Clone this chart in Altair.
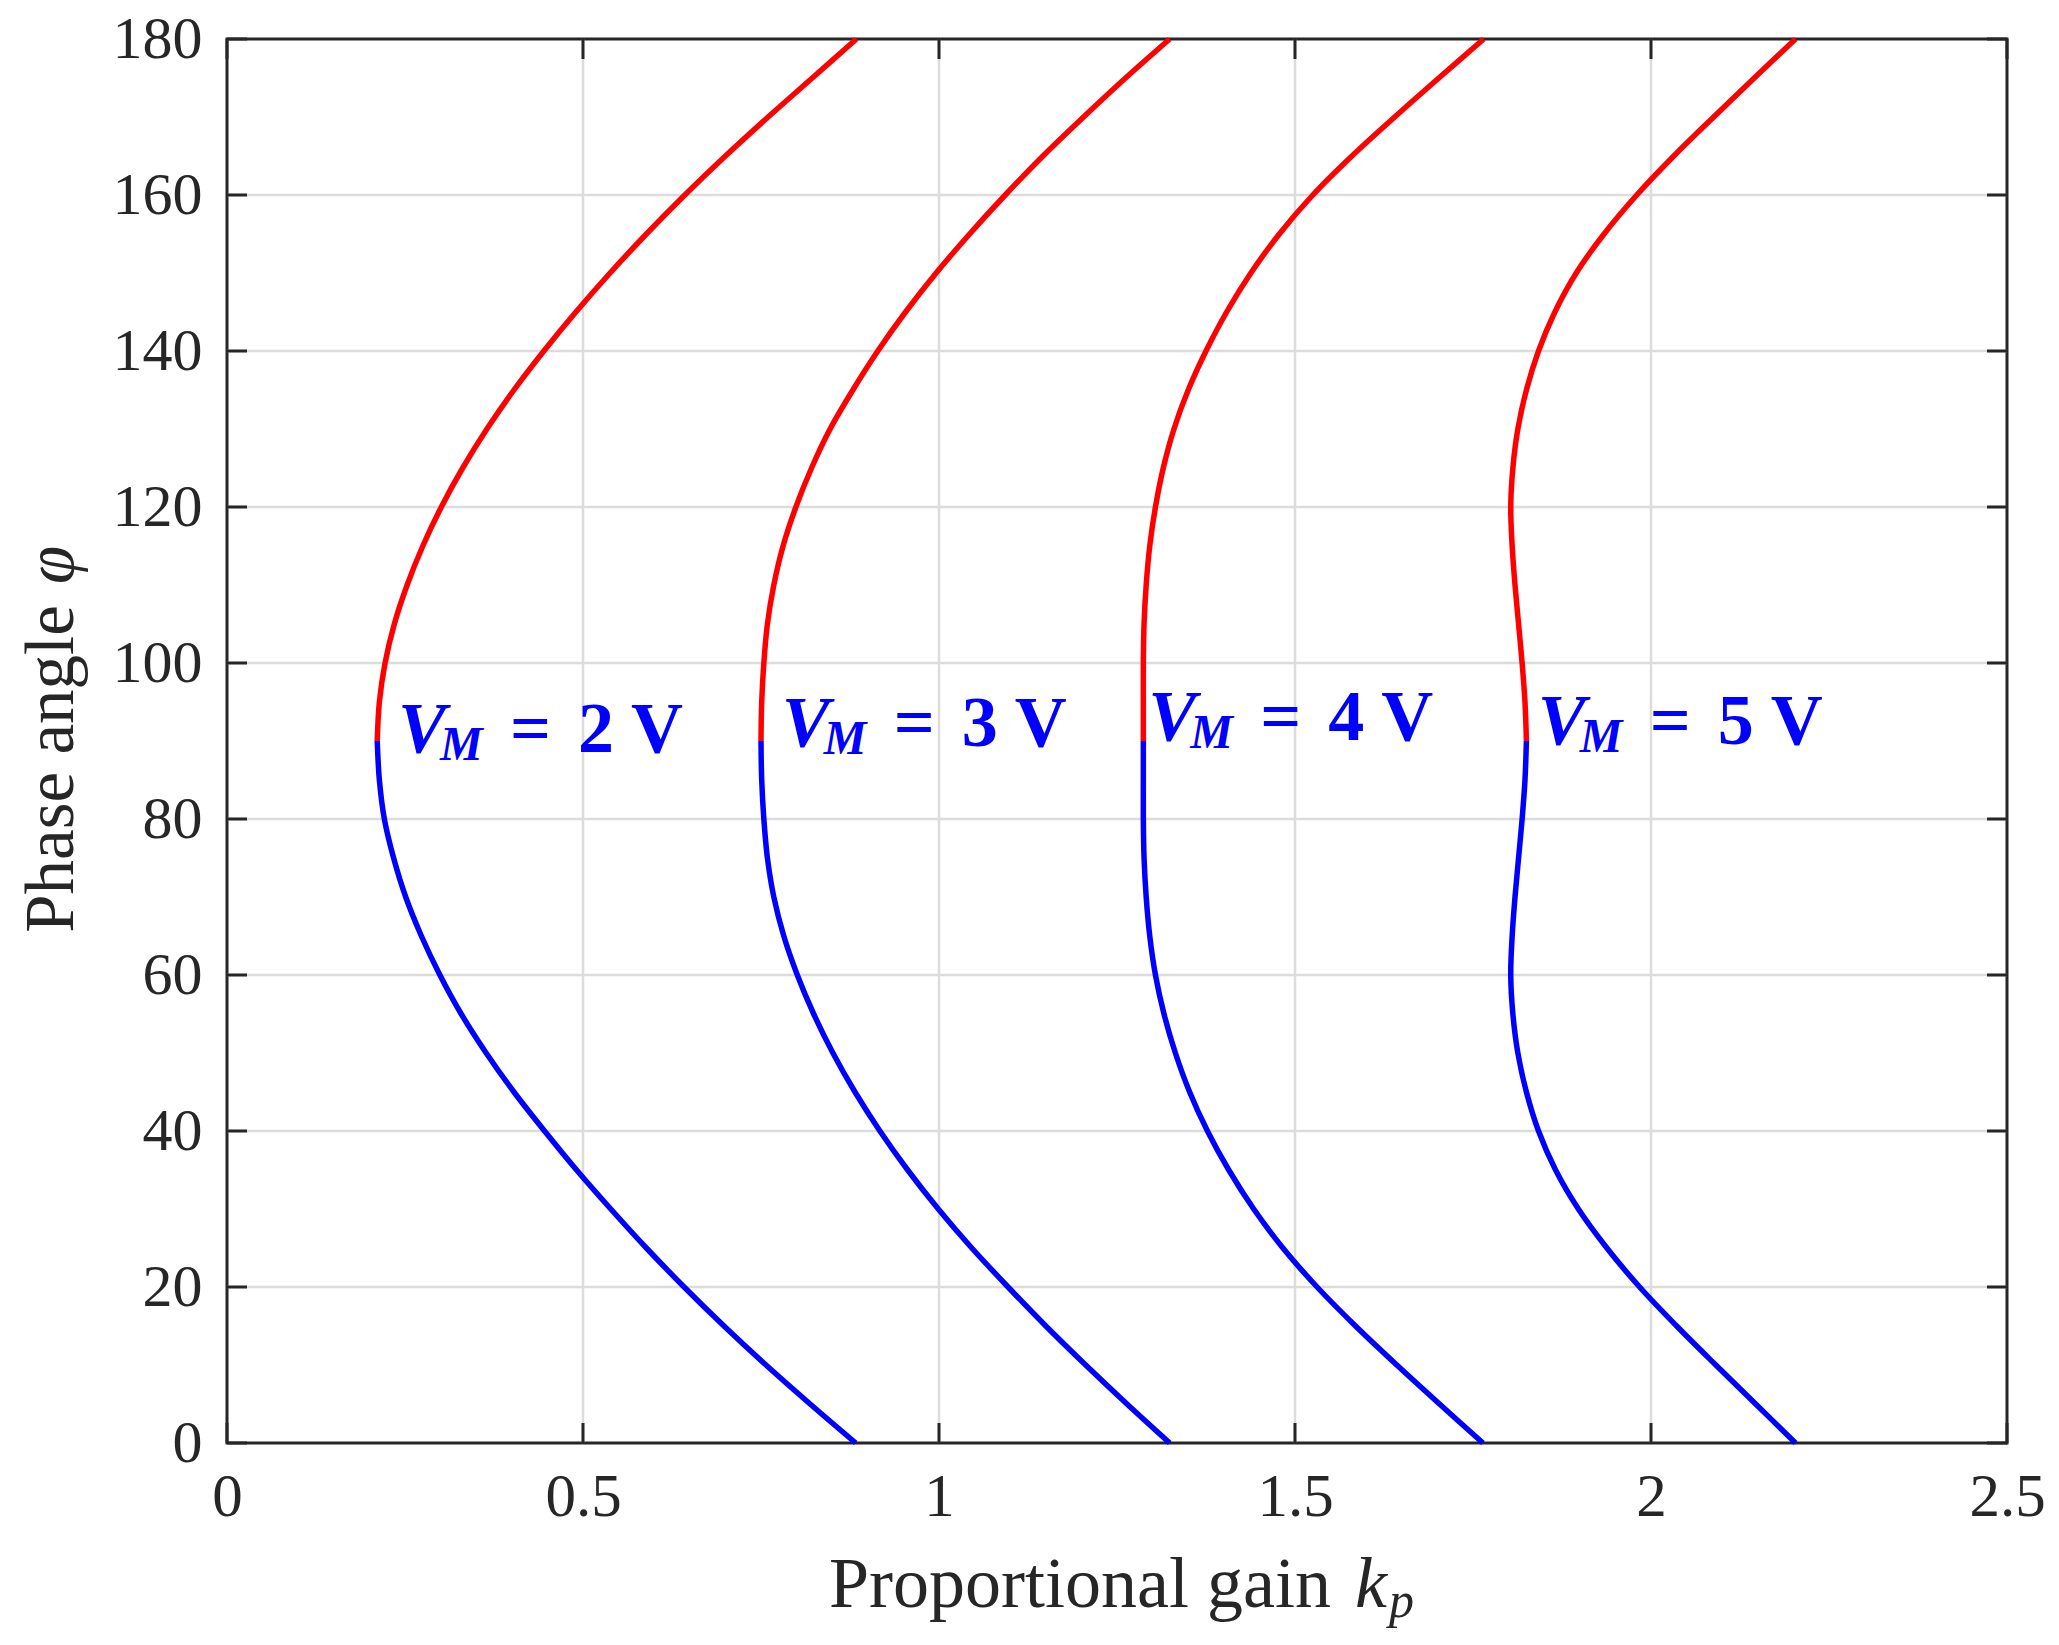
import altair as alt
import pandas as pd

# ---------------- data ----------------
phi_lower = [0, 5, 10, 15, 20, 25, 30, 35, 40, 45, 50, 55, 60, 65, 70, 75, 80, 85, 90]
phi_upper = [90, 95, 100, 105, 110, 115, 120, 125, 130, 135, 140, 145, 150, 155, 160, 165, 170, 175, 180]

kp_2V_lower = [0.883, 0.819, 0.757, 0.698, 0.642, 0.589, 0.539, 0.491, 0.446, 0.403, 0.364, 0.329,
               0.299, 0.273, 0.251, 0.234, 0.221, 0.214, 0.211]
kp_2V_upper = [0.211, 0.214, 0.222, 0.235, 0.253, 0.275, 0.301, 0.331, 0.365, 0.403, 0.445, 0.490,
               0.538, 0.589, 0.643, 0.700, 0.760, 0.822, 0.884]

kp_3V_lower = [1.324, 1.264, 1.206, 1.150, 1.097, 1.046, 0.999, 0.956, 0.917, 0.882, 0.851, 0.824,
               0.801, 0.782, 0.768, 0.759, 0.754, 0.751, 0.750]
kp_3V_upper = [0.750, 0.751, 0.754, 0.759, 0.768, 0.781, 0.799, 0.821, 0.847, 0.879, 0.914, 0.953,
               0.996, 1.043, 1.093, 1.146, 1.203, 1.262, 1.324]

kp_4V_lower = [1.764, 1.703, 1.643, 1.585, 1.531, 1.483, 1.442, 1.407, 1.377, 1.352, 1.332, 1.316,
               1.304, 1.296, 1.291, 1.288, 1.287, 1.287, 1.287]
kp_4V_upper = [1.287, 1.287, 1.287, 1.288, 1.291, 1.296, 1.304, 1.315, 1.330, 1.350, 1.375, 1.404,
               1.438, 1.478, 1.525, 1.580, 1.640, 1.702, 1.765]

kp_5V_lower = [2.203, 2.147, 2.091, 2.036, 1.984, 1.938, 1.898, 1.866, 1.842, 1.825, 1.813, 1.806,
               1.803, 1.805, 1.809, 1.814, 1.819, 1.823, 1.825]
kp_5V_upper = [1.825, 1.823, 1.819, 1.814, 1.809, 1.805, 1.803, 1.806, 1.813, 1.825, 1.842, 1.865,
               1.895, 1.934, 1.980, 2.032, 2.088, 2.145, 2.203]

vm_values = ["2", "3", "4", "5"]
label_kp = [0.240, 0.779, 1.294, 1.841]
label_phi = [88.6, 89.4, 90.1, 89.6]

x_ticks = [0, 0.5, 1, 1.5, 2, 2.5]
y_ticks = [0, 20, 40, 60, 80, 100, 120, 140, 160, 180]

x_title_main = "Proportional gain"
x_title_var = "k"
x_title_sub = "p"
y_title_main = "Phase angle"
y_title_var = "φ"

# ---------------- build tables ----------------
rows = []
series = [
    ("2", kp_2V_lower, kp_2V_upper),
    ("3", kp_3V_lower, kp_3V_upper),
    ("4", kp_4V_lower, kp_4V_upper),
    ("5", kp_5V_lower, kp_5V_upper),
]
for vm, lo, up in series:
    for p, k in zip(phi_lower, lo):
        rows.append({"vm": vm, "half": "lower", "phi": p, "kp": k})
    for p, k in zip(phi_upper, up):
        rows.append({"vm": vm, "half": "upper", "phi": p, "kp": k})
curves_df = pd.DataFrame(rows)

labels_df = pd.DataFrame({"kp": label_kp, "phi": label_phi, "vm": vm_values})
xt_df = pd.DataFrame({"kp": x_ticks})
yt_df = pd.DataFrame({"phi": y_ticks})
xg_df = pd.DataFrame({"kp": [v for v in x_ticks if 0 < v < 2.5]})
yg_df = pd.DataFrame({"phi": [v for v in y_ticks if 0 < v < 180]})

# ---------------- style ----------------
W, H = 1780, 1404
INK = "#262626"
SERIF = "Liberation Serif"
GRID = "#dcdcdc"
BLUE = "#0000ff"
RED = "#ff0000"

xs = alt.Scale(domain=[0, 2.5], nice=False, zero=False)
ys = alt.Scale(domain=[0, 180], nice=False, zero=False)

xaxis = alt.Axis(values=x_ticks, format="~g", grid=False, ticks=False, tickSize=0, domain=False,
                 labelFont=SERIF, labelFontSize=61, labelColor=INK, labelPadding=24,
                 labelFlush=False, labelOverlap=False, title=None)
yaxis = alt.Axis(values=y_ticks, format="d", grid=False, ticks=False, tickSize=0, domain=False,
                 labelFont=SERIF, labelFontSize=60, labelColor=INK, labelPadding=25,
                 labelFlush=False, labelOverlap=False, title=None)

X = alt.X("kp:Q", scale=xs, axis=xaxis)
Y = alt.Y("phi:Q", scale=ys, axis=yaxis)

grid_x = alt.Chart(xg_df).mark_rule(color=GRID, strokeWidth=2.5).encode(
    x=X, y=alt.value(0), y2=alt.value(H))
grid_y = alt.Chart(yg_df).mark_rule(color=GRID, strokeWidth=2.5).encode(
    y=Y, x=alt.value(0), x2=alt.value(W))

ticks_bottom = alt.Chart(xt_df).mark_rule(color=INK, strokeWidth=3).encode(
    x=X, y=alt.value(H), y2=alt.value(H - 20))
ticks_top = alt.Chart(xt_df).mark_rule(color=INK, strokeWidth=3).encode(
    x=X, y=alt.value(0), y2=alt.value(20))
ticks_left = alt.Chart(yt_df).mark_rule(color=INK, strokeWidth=3).encode(
    y=Y, x=alt.value(0), x2=alt.value(20))
ticks_right = alt.Chart(yt_df).mark_rule(color=INK, strokeWidth=3).encode(
    y=Y, x=alt.value(W), x2=alt.value(W - 20))

curves = alt.Chart(curves_df).mark_line(strokeWidth=5.5, interpolate="catmull-rom").encode(
    x=X,
    y=Y,
    color=alt.Color("half:N", scale=alt.Scale(domain=["lower", "upper"], range=[BLUE, RED]),
                    legend=None),
    detail="vm:N",
    order=alt.Order("phi:Q"),
)

lab_v = alt.Chart(labels_df).mark_text(font=SERIF, fontSize=72, fontWeight="bold", fontStyle="italic",
                                       color=BLUE, align="left", baseline="alphabetic").encode(
    x=X, y=Y, text=alt.value("V"))
lab_m = alt.Chart(labels_df).mark_text(font=SERIF, fontSize=48, fontWeight="bold", fontStyle="italic",
                                       color=BLUE, align="left", baseline="alphabetic", dx=42, dy=8).encode(
    x=X, y=Y, text=alt.value("M"))
lab_eq = alt.Chart(labels_df).mark_text(font=SERIF, fontSize=72, fontWeight="bold",
                                        color=BLUE, align="left", baseline="alphabetic", dx=112).encode(
    x=X, y=Y, text=alt.value("="))
lab_num = alt.Chart(labels_df).mark_text(font=SERIF, fontSize=72, fontWeight="bold",
                                         color=BLUE, align="left", baseline="alphabetic", dx=180).encode(
    x=X, y=Y, text="vm:N")
lab_unit = alt.Chart(labels_df).mark_text(font=SERIF, fontSize=72, fontWeight="bold",
                                          color=BLUE, align="left", baseline="alphabetic", dx=233).encode(
    x=X, y=Y, text=alt.value("V"))

xt_main = alt.Chart(pd.DataFrame({"t": [x_title_main]})).mark_text(
    font=SERIF, fontSize=72, color=INK, align="center", baseline="alphabetic").encode(
    x=alt.value(853), y=alt.value(1568), text="t:N")
xt_var = alt.Chart(pd.DataFrame({"t": [x_title_var]})).mark_text(
    font=SERIF, fontSize=72, fontStyle="italic", color=INK, align="left", baseline="alphabetic").encode(
    x=alt.value(1128), y=alt.value(1568), text="t:N")
xt_sub = alt.Chart(pd.DataFrame({"t": [x_title_sub]})).mark_text(
    font=SERIF, fontSize=50, fontStyle="italic", color=INK, align="left", baseline="alphabetic").encode(
    x=alt.value(1162), y=alt.value(1578), text="t:N")

yt_main = alt.Chart(pd.DataFrame({"t": [y_title_main]})).mark_text(
    font=SERIF, fontSize=69, color=INK, align="center", baseline="alphabetic", angle=270).encode(
    x=alt.value(-154), y=alt.value(730), text="t:N")
yt_var = alt.Chart(pd.DataFrame({"t": [y_title_var]})).mark_text(
    font=SERIF, fontSize=69, fontStyle="italic", color=INK, align="left", baseline="alphabetic", angle=270).encode(
    x=alt.value(-154), y=alt.value(545), text="t:N")

chart = alt.layer(
    grid_x, grid_y, curves,
    ticks_bottom, ticks_top, ticks_left, ticks_right,
    lab_v, lab_m, lab_eq, lab_num, lab_unit,
    xt_main, xt_var, xt_sub, yt_main, yt_var,
).properties(
    width=W, height=H,
    autosize=alt.AutoSizeParams(type="none"),
    padding={"left": 219, "top": 31, "right": 44, "bottom": 190},
).configure_view(stroke=INK, strokeWidth=3)

chart.save("out.html", embed_options={"renderer": "svg", "actions": False})
